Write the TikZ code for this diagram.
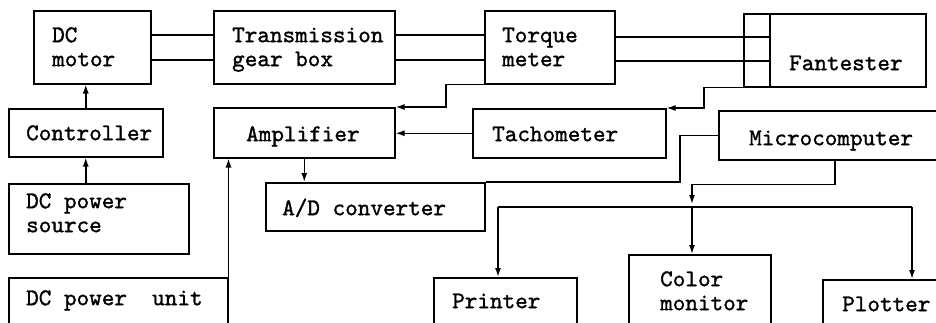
\documentclass[tikz,border=0pt]{standalone}
\usepackage{fontspec}
\newfontfamily\tyfont{lmmono10-regular}[Extension=.otf, FakeBold=1.2]
\usetikzlibrary{arrows.meta}
\begin{document}
\begin{tikzpicture}[x=1pt,y=-1pt,
  box/.style={draw, line width=1.5pt, inner sep=0pt, anchor=north west},
  txt/.style={anchor=north west, inner sep=0pt, align=left, font=\fontsize{24}{24}\selectfont\tyfont},
  wire/.style={line width=1.5pt},
  arr/.style={wire, -{Latex[length=9pt,width=6pt]}}]
\fill[white] (0,0) rectangle (936,322);
\useasboundingbox (0,0) rectangle (936,322);
\clip (0,0) rectangle (936,322);
% boxes
\node[box, minimum width=117pt, minimum height=73pt] (motor) at (33,10) {};
\node[box, minimum width=181pt, minimum height=73pt] (gear) at (213,10) {};
\node[box, minimum width=130pt, minimum height=73pt] (torque) at (484,10) {};
\node[box, minimum width=26pt, minimum height=73pt] (coupling) at (743,13) {};
\node[box, minimum width=156pt, minimum height=73pt] (fan) at (769,13) {};
\node[box, minimum width=154pt, minimum height=48pt] (ctrl) at (8,108) {};
\node[box, minimum width=181pt, minimum height=50pt] (amp) at (213,107) {};
\node[box, minimum width=193pt, minimum height=49pt] (tach) at (472,108) {};
\node[box, minimum width=232pt, minimum height=49pt] (micro) at (718,110) {};
\node[box, minimum width=180pt, minimum height=70pt] (source) at (8,183) {};
\node[box, minimum width=219pt, minimum height=48pt] (adc) at (265,182) {};
\node[box, minimum width=219pt, minimum height=70pt] (unit) at (8,277) {};
\node[box, minimum width=143pt, minimum height=70pt] (printer) at (433,277) {};
\node[box, minimum width=142pt, minimum height=90pt] (monitor) at (628,254) {};
\node[box, minimum width=140pt, minimum height=70pt] (plotter) at (822,279) {};
% texts
\node[txt] (motor-t) at (52,25.2) {\strut DC\\\strut motor};
\node[txt] (gear-t) at (232,25.2) {\strut Transmission\\\strut gear box};
\node[txt] (torque-t) at (502,25.2) {\strut Torque\\\strut meter};
\node[txt] (fan-t) at (789,53.2) {\strut Fantester};
\node[txt] (ctrl-t) at (26,123.2) {\strut Controller};
\node[txt] (amp-t) at (246,124.2) {\strut Amplifier};
\node[txt] (tach-t) at (492,124.2) {\strut Tachometer};
\node[txt] (micro-t) at (749,128.2) {\strut Microcomputer};
\node[txt] (source-t) at (26,191.2) {\strut DC power\\\strut source};
\node[txt] (adc-t) at (282,198.2) {\strut A/D converter};
\node[txt] (unit-t) at (26,288.2) {\strut DC power\ \ unit};
\node[txt] (printer-t) at (452,291.2) {\strut Printer};
\node[txt] (monitor-t) at (660,269.2) {\strut Color\\\strut monitor};
\node[txt] (plotter-t) at (842,294.2) {\strut Plotter};
% shafts
\draw[wire] ([yshift=-25pt]motor.north east) -- ([yshift=-25pt]gear.north west);
\draw[wire] ([yshift=-50pt]motor.north east) -- ([yshift=-50pt]gear.north west);
\draw[wire] ([yshift=-25pt]gear.north east) -- ([yshift=-25pt]torque.north west);
\draw[wire] ([yshift=-50pt]gear.north east) -- ([yshift=-50pt]torque.north west);
\coordinate (t1) at ([yshift=-27pt]torque.north east);
\coordinate (t2) at ([yshift=-51pt]torque.north east);
\draw[wire] (t1) -- (t1 -| fan.west);
\draw[wire] (t2) -- (t2 -| fan.west);
% signals
\draw[arr] (ctrl.north) -- (ctrl.north |- motor.south);
\draw[arr] (ctrl.south |- source.north) -- (ctrl.south);
\draw[arr] (unit.north east) -- (unit.north east |- amp.south);
\draw[arr] (amp.south) -- (amp.south |- adc.north);
\draw[arr] (torque.south west) -- ++(-38,0) |- (amp.north east);
\draw[arr] (coupling.south west) -- ++(-39,0) |- (tach.north east);
\draw[arr] (tach.west) -- (tach.west -| amp.east);
\draw[wire] (micro.west) -- ++(-38,0) |- (adc.north east);
% output bus
\coordinate (j) at (692,207);
\coordinate (bl) at (498,207);
\coordinate (br) at (912,207);
\draw[arr] (micro.south) -- ++(0,24) -| ([yshift=3pt]j);
\draw[wire] (bl) -- (br);
\draw[arr] (bl) -- (bl |- printer.north);
\draw[arr] (j) -- (j |- monitor.north);
\draw[arr] (br) -- (br |- plotter.north);
\end{tikzpicture}
\end{document}
